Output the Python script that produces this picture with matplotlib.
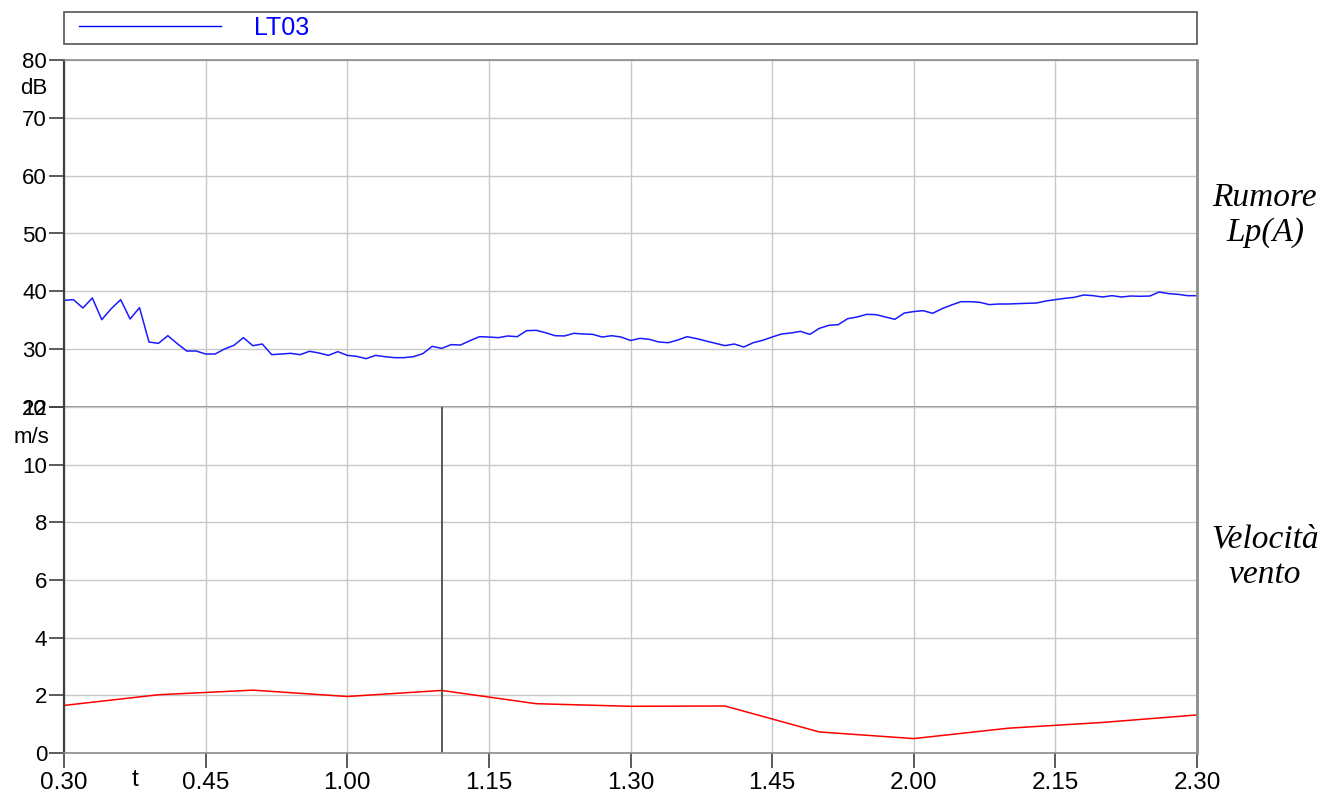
import matplotlib
matplotlib.use("Agg")
import matplotlib.pyplot as plt
from matplotlib.ticker import FixedLocator, FixedFormatter
from matplotlib.legend_handler import HandlerLine2D
import matplotlib.transforms as mtransforms

plt.rcParams['font.family'] = ['Liberation Sans', 'DejaVu Sans']

# ---- data ----
# noise Lp(A), one sample per minute starting at 0.30 (minute 0) up to 2.30 (minute 120)
noise_minutes = list(range(0, 121))
noise_db = [
    38.44, 38.56, 37.12, 38.85, 35.10, 37.00, 38.56, 35.22, 37.18, 31.24,
    31.00, 32.33, 30.95, 29.68, 29.68, 29.16, 29.16, 30.03, 30.66, 31.99,
    30.60, 30.89, 29.05, 29.16, 29.28, 29.05, 29.63, 29.34, 28.93, 29.57,
    28.93, 28.76, 28.36, 28.93, 28.70, 28.53, 28.53, 28.70, 29.22, 30.49,
    30.14, 30.78, 30.72, 31.47, 32.16, 32.10, 31.99, 32.28, 32.16, 33.20,
    33.26, 32.85, 32.33, 32.28, 32.74, 32.62, 32.56, 32.10, 32.33, 32.10,
    31.50, 31.87, 31.70, 31.24, 31.12, 31.58, 32.16, 31.82, 31.41, 31.01,
    30.61, 30.89, 30.37, 31.12, 31.53, 32.10, 32.62, 32.80, 33.08, 32.56,
    33.60, 34.12, 34.24, 35.27, 35.56, 36.02, 35.97, 35.56, 35.16, 36.25,
    36.50, 36.66, 36.20, 37.00, 37.64, 38.21, 38.21, 38.10, 37.70, 37.81,
    37.81, 37.87, 37.93, 37.98, 38.33, 38.56, 38.79, 38.96, 39.37, 39.25,
    39.02, 39.25, 39.02, 39.19, 39.14, 39.19, 39.88, 39.60, 39.48, 39.25,
    39.25,
]

# wind speed, one sample every 10 minutes
wind_minutes = [0, 10, 20, 30, 40, 50, 60, 70, 80, 90, 100, 110, 120]
wind_ms = [1.65, 2.02, 2.18, 1.96, 2.17, 1.71, 1.62, 1.63, 0.73, 0.50, 0.86, 1.06, 1.32]

# cursor marker at 1.10
cursor_minute = 40

x_tick_minutes = [0, 15, 30, 45, 60, 75, 90, 105, 120]
x_tick_labels = ["0.30", "0.45", "1.00", "1.15", "1.30", "1.45", "2.00", "2.15", "2.30"]
db_ticks = [20, 30, 40, 50, 60, 70, 80]
ms_ticks = [0, 2, 4, 6, 8, 10, 12]

series_name = "LT03"

# ---- figure ----
W, H = 1340, 794
fig = plt.figure(figsize=(W / 100, H / 100), dpi=100)

L, R = 64, 1197
top_t, mid, bot = 60, 407, 753
ax1 = fig.add_axes([L / W, 1 - mid / H, (R - L) / W, (mid - top_t) / H])
ax2 = fig.add_axes([L / W, 1 - bot / H, (R - L) / W, (bot - mid) / H])

grid_c = "#c8c8c8"
dark = "#404040"
edge_gray = "#8c8c8c"
tick_fs = 16
xtick_fs = 17.5
side_fs = 24

for ax in (ax1, ax2):
    ax.set_xlim(0, 120)
    ax.xaxis.set_major_locator(FixedLocator(x_tick_minutes))
    ax.grid(True, color=grid_c, linewidth=1.0)
    ax.set_axisbelow(True)
    ax.spines['left'].set_color(dark)
    ax.spines['left'].set_linewidth(1.6)
    for s in ('top', 'right', 'bottom'):
        ax.spines[s].set_color(edge_gray)
    ax.spines['right'].set_linewidth(2.0)
    ax.spines['top'].set_linewidth(1.2)
    ax.spines['bottom'].set_linewidth(1.2)
    ax.tick_params(axis='y', direction='out', length=11, width=1.2, color=dark,
                   labelsize=tick_fs, pad=1.2)

# top panel
ax1.plot(noise_minutes, noise_db, color="#1a1aff", linewidth=1.1, label=series_name)
ax1.set_ylim(20, 80)
ax1.yaxis.set_major_locator(FixedLocator(db_ticks))
ax1.tick_params(axis='x', length=0, labelbottom=False)
ax1.text(-0.027, 0.919, "dB", transform=ax1.transAxes, ha='center', va='center',
         fontsize=tick_fs)
ax1.text(1.06, 0.553, "Rumore\nLp(A)", transform=ax1.transAxes, ha='center', va='center',
         fontsize=side_fs, family=['Liberation Serif'], style='italic', linespacing=1.2)

leg = ax1.legend(loc='lower left', bbox_to_anchor=(0, 1.046, 1, 0.092), mode='expand',
                 borderaxespad=0, fancybox=False, framealpha=1, edgecolor="#555555",
                 fontsize=18, handlelength=6.12, handletextpad=1.32, borderpad=0.16,
                 labelcolor="#0000ff",
                 handler_map={plt.Line2D: HandlerLine2D(xpad=0.44)})
leg.get_frame().set_linewidth(1.2)
for h in leg.get_lines():
    h.set_color("#0000ff")
    h.set_linewidth(1.0)

# bottom panel
ax2.plot(wind_minutes, wind_ms, color="#ff0000", linewidth=1.1)
ax2.axvline(cursor_minute, color=dark, linewidth=1.2)
ax2.set_ylim(0, 12)
ax2.yaxis.set_major_locator(FixedLocator(ms_ticks))
ax2.xaxis.set_major_formatter(FixedFormatter(x_tick_labels))
ax2.tick_params(axis='x', direction='out', length=11, width=1.2, color=dark,
                labelsize=xtick_fs, pad=3)
ax2.spines['top'].set_visible(False)
ax2.text(-0.029, 0.913, "m/s", transform=ax2.transAxes, ha='center', va='center',
         fontsize=tick_fs)
trans = mtransforms.blended_transform_factory(ax2.transData, ax2.transAxes)
ax2.text(7.5, -0.077, "t", transform=trans, ha='center', va='center', fontsize=xtick_fs)
ax2.text(1.06, 0.566, "Velocità\nvento", transform=ax2.transAxes, ha='center', va='center',
         fontsize=side_fs, family=['Liberation Serif'], style='italic', linespacing=1.2)

fig.savefig("out.png", dpi=100)
